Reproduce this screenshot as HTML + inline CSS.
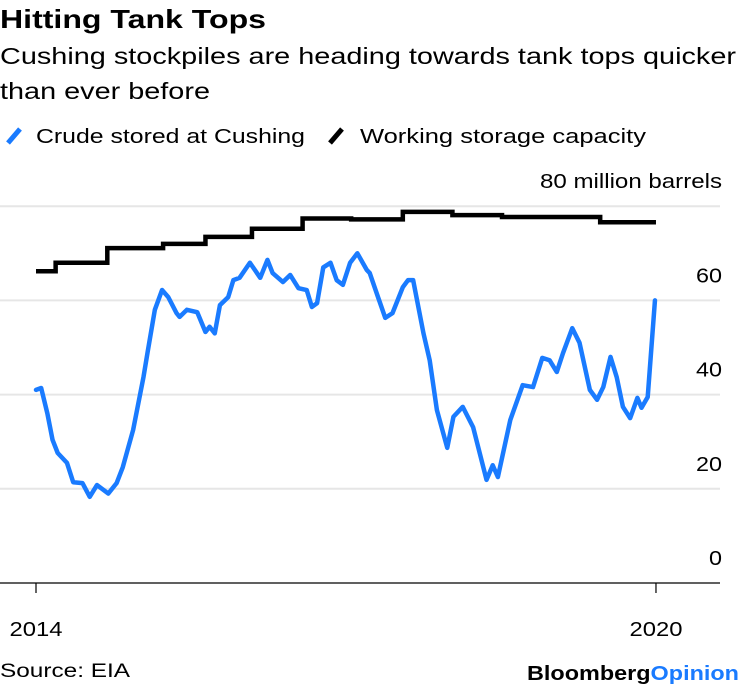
<!DOCTYPE html>
<html><head><meta charset="utf-8"><style>
body{margin:0;background:#fff;width:740px;height:688px;overflow:hidden;font-family:"Liberation Sans",Arial,sans-serif;color:#000}
text{font-family:"Liberation Sans",Arial,sans-serif}
</style></head><body>
<svg id="chart" width="740" height="688" style="position:absolute;left:0;top:0">
<text x="0" y="28" font-size="26" font-weight="bold" textLength="266" lengthAdjust="spacingAndGlyphs">Hitting Tank Tops</text>
<text x="0" y="64" font-size="23" textLength="736" lengthAdjust="spacingAndGlyphs">Cushing stockpiles are heading towards tank tops quicker</text>
<text x="0" y="99" font-size="23" textLength="210" lengthAdjust="spacingAndGlyphs">than ever before</text>
<g>
<line x1="8" y1="143" x2="20" y2="129" stroke="#1a7bff" stroke-width="5"/>
<text x="36" y="143" font-size="20" textLength="269" lengthAdjust="spacingAndGlyphs">Crude stored at Cushing</text>
</g>
<g>
<line x1="330" y1="143" x2="342" y2="129" stroke="#000" stroke-width="5"/>
<text x="360" y="143" font-size="20" textLength="286" lengthAdjust="spacingAndGlyphs">Working storage capacity</text>
</g>
<text x="0" y="677" font-size="19" textLength="130" lengthAdjust="spacingAndGlyphs">Source: EIA</text>
<text x="527" y="680" font-size="20" font-weight="bold" textLength="212" lengthAdjust="spacingAndGlyphs">Bloomberg<tspan fill="#1a7bff">Opinion</tspan></text>
</svg>
<script>
const yTicks=[0,20,40,60,80];
const xTickLabels=["2014","2020"];
const xTickVals=[0,6];
const crudeT=[0,0.05,0.11,0.16,0.21,0.30,0.36,0.45,0.52,0.59,0.70,0.78,0.84,0.94,1.04,1.08,1.15,1.22,1.28,1.36,1.39,1.46,1.56,1.64,1.68,1.73,1.78,1.86,1.91,1.97,2.07,2.17,2.24,2.29,2.39,2.46,2.54,2.62,2.67,2.72,2.78,2.85,2.91,2.97,3.04,3.11,3.20,3.23,3.31,3.38,3.45,3.55,3.60,3.65,3.75,3.81,3.88,3.98,4.04,4.13,4.23,4.36,4.42,4.47,4.59,4.71,4.81,4.90,4.97,5.04,5.10,5.19,5.26,5.36,5.43,5.49,5.56,5.62,5.68,5.75,5.82,5.86,5.92,5.99];
const crudeV=[41,41.4,36,30.4,27.6,25.5,21.4,21.2,18.3,20.8,19,21.2,24.6,32.5,43.7,49,58,62.2,60.7,57.3,56.5,58,57.5,53.3,54.4,53,59,60.7,64.3,64.8,68,64.8,68.6,65.8,63.9,65.4,62.6,62.2,58.6,59.4,67,68,64.3,63.3,68,70,66.5,65.8,60.7,56.3,57.3,62.8,64.3,64.3,53,47.3,36.7,28.7,35.3,37.4,33.1,21.9,25,22.5,34.6,42,41.6,47.8,47.3,44.8,48.8,54.1,51,41,38.9,41.6,48,43.7,37.4,35,39.3,37.2,39.5,60];
const capT=[0,0.19,0.69,1.23,1.64,2.09,2.58,3.05,3.55,4.03,4.51,5.46];
const capV=[66.2,68,71.1,72,73.5,75.2,77.4,77.2,78.8,78.1,77.7,76.6];
const capEnd=6;
const X=t=>36+t*103.33, Y=v=>583-v*4.71;
const svg=document.getElementById('chart'),NS='http://www.w3.org/2000/svg';
function mk(tag,a){const e=document.createElementNS(NS,tag);for(const k in a)e.setAttribute(k,a[k]);svg.appendChild(e);return e;}
yTicks.forEach(v=>{
 const g=mk('line',{x1:0,x2:720,y1:Y(v),y2:Y(v),stroke:v===0?'#000':'#e6e6e6','stroke-width':v===0?1.2:2});
 
 
 const attrs={x:722,y:Y(v)-18,'text-anchor':'end','font-size':20};
 if(v===80){attrs.textLength=182;attrs.lengthAdjust='spacingAndGlyphs';}
 else {attrs.textLength=String(v).length*13;attrs.lengthAdjust='spacingAndGlyphs';}
 const tx=mk('text',attrs);
 tx.textContent=v===80?'80 million barrels':String(v);
 
 
});
xTickVals.forEach((t,i)=>{
 const l=mk('line',{x1:X(t),x2:X(t),y1:583,y2:593,stroke:'#000','stroke-width':1.2});
 
 
 const tx=mk('text',{x:X(t),y:636,'text-anchor':'middle','font-size':20,textLength:53,lengthAdjust:'spacingAndGlyphs'});
 tx.textContent=xTickLabels[i];
 
 
});
let d='';
capT.forEach((t,i)=>{const nt=i<capT.length-1?capT[i+1]:capEnd;d+=(i?'L':'M')+X(t)+','+Y(capV[i])+'L'+X(nt)+','+Y(capV[i]);});
const cap=mk('path',{d:d,fill:'none',stroke:'#000','stroke-width':4.5});


const cd=crudeT.map((t,i)=>(i?'L':'M')+X(t)+','+Y(crudeV[i])).join('');
const cr=mk('path',{d:cd,fill:'none',stroke:'#1a7bff','stroke-width':4.5,'stroke-linejoin':'round','stroke-linecap':'round'});


</script>
</body></html>
